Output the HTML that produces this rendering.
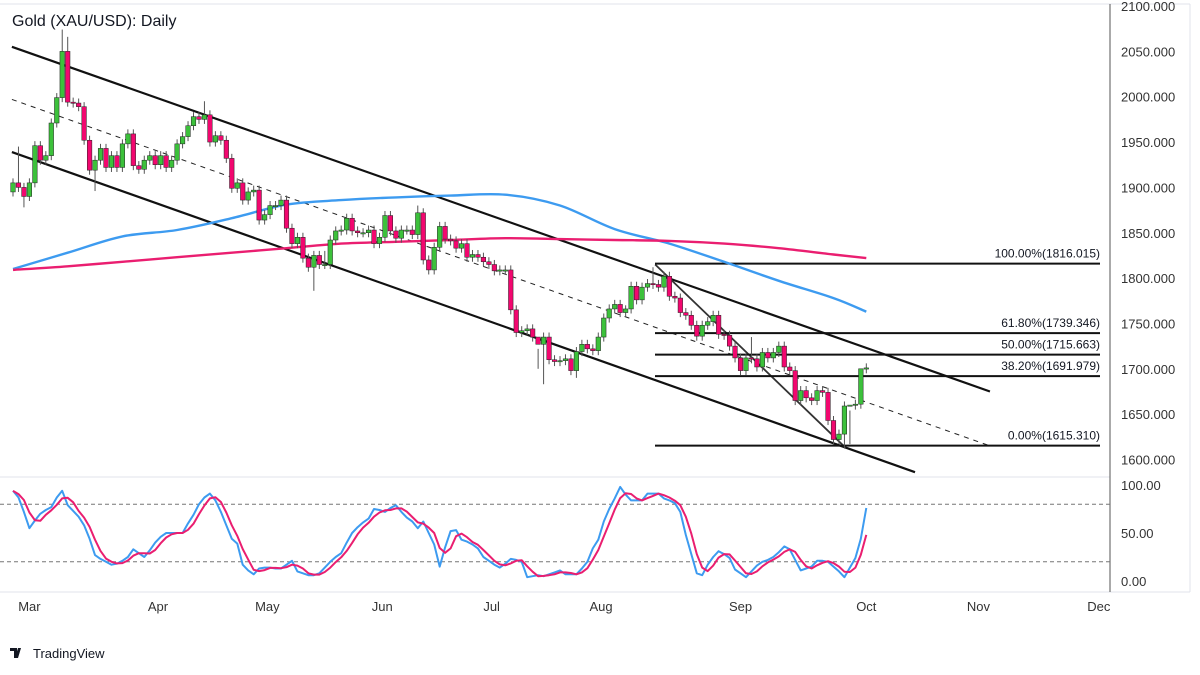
<!DOCTYPE html>
<html><head><meta charset="utf-8"><style>
html,body{margin:0;padding:0;background:#fff;width:1200px;height:675px;overflow:hidden}
svg text{font-family:"Liberation Sans",sans-serif}
</style></head><body>
<svg id="chart" width="1200" height="675" viewBox="0 0 1200 675" xmlns="http://www.w3.org/2000/svg">
<rect x="0" y="0" width="1200" height="675" fill="#fff"/>
<line x1="0" y1="4" x2="1190" y2="4" stroke="#e0e3eb"/>
<line x1="1190" y1="4" x2="1190" y2="592" stroke="#e0e3eb"/>
<line x1="0" y1="477" x2="1110" y2="477" stroke="#e0e3eb"/>
<line x1="0" y1="592" x2="1190" y2="592" stroke="#e0e3eb"/>
<line x1="1110" y1="4" x2="1110" y2="592" stroke="#555"/>
<g id="stochGuides"></g>
<g id="trend"></g>
<g id="ma"></g>
<g id="candles"></g>
<g id="stoch"></g>
<g id="axes"></g>
<text x="12" y="26" font-size="16" fill="#131722">Gold (XAU/USD): Daily</text>
<g>
<path d="M10 648h7v10h-3v-7h-4z M18 648h3l-3 10h-3z" fill="#131722"/>
<text x="33" y="658" font-size="13" fill="#131722">TradingView</text>
</g>
</svg>
<script>
const closes=[1905,1900,1890,1905,1946,1930,1935,1971,1999,2050,1994,1993,1989,1952,1919,1930,1943,1922,1935,1922,1948,1959,1924,1920,1930,1935,1925,1935,1922,1930,1948,1956,1968,1978,1975,1980,1950,1957,1952,1932,1899,1905,1886,1895,1897,1864,1870,1880,1880,1886,1855,
1838,1845,1822,1812,1825,1815,1815,1842,1852,1853,1866,1852,1850,1850,1853,1838,1845,1869,1852,1844,1853,1853,1848,1872,1820,1809,1834,1857,1843,1841,1833,1838,1823,1826,1823,1818,1815,1808,1809,1809,1765,1740,1742,1744,1735,1727,1735,1710,1708,1709,1711,1698,1719,1727,1722,1720,1735,
1756,1766,1771,1762,1766,1791,1776,1790,1794,1793,1790,1802,1780,1778,1762,1759,1748,1736,1748,1752,1759,1738,1737,1725,1712,1698,1712,1711,1702,1718,1712,1718,1725,1702,1698,1665,1676,1668,1665,1676,1674,1643,1622,1628,1659,1660,1661,1700,1701];
const firstOpen=1895;
const bigHighs={1:1945,9:2074,10:2066,35:1995,57:1830,74:1880,96:1700,112:1770,117:1812,135:1735,153:1617,155:1662};
const bigLows={2:1878,15:1896,55:1786,97:1683,103:1690,152:1612};
const stochK=[94,87,72,55,63,70,74,77,87,94,79,73,67,58,44,27,23,20,17,18,21,25,33,29,25,32,40,46,50,50,50,50,60,69,80,87,91,84,72,58,44,39,17,11,7,13,14,14,13,13,17,21,10,8,6,6,8,14,20,25,29,40,50,56,61,65,75,74,72,76,79,72,66,62,55,62,50,38,15,35,52,53,43,41,38,34,25,21,17,14,18,23,22,20,4,5,6,5,7,9,11,7,7,7,13,20,34,43,62,75,86,98,90,84,84,84,91,91,91,86,84,81,72,48,28,8,6,17,25,31,28,24,12,8,4,10,16,20,22,25,30,36,33,22,11,13,15,21,21,20,15,10,4,14,24,44,76];
const ma100=[1810,1828,1846,1853,1866,1881,1886,1889,1891,1892,1880,1854,1838,1818,1797,1778,1763];
const ma200=[1809,1813,1818,1823,1828,1833,1838,1840,1842,1844,1843,1842,1841,1838,1833,1826,1822];
const priceTicks=[2100,2050,2000,1950,1900,1850,1800,1750,1700,1650,1600];
const stochTicks=[100,50,0];
const stochLevels=[80,20];
const fibLevels=[100,61.8,50,38.2,0];
const fibPrices=[1816.015,1739.346,1715.663,1691.979,1615.310];
const months=["Mar","Apr","May","Jun","Jul","Aug","Sep","Oct","Nov","Dec"];
const monthIdx=[3,26.5,46.5,67.5,87.5,107.5,133,156,176.5,198.5];
const upperLine=[[-0.2,2055],[178.6,1675]];
const lowerLine=[[-0.2,1939],[164.9,1586]];
const midLine=[[-0.2,1997],[178.6,1615]];
const wedgeLine=[[117.4,1815],[152.2,1613]];

const NS="http://www.w3.org/2000/svg";
const xOf=i=>13+i*5.47;
const yOf=p=>6+(2100-p)*0.907;
const ySt=v=>581-v*0.96;
function mk(tag,attrs,parent){const e=document.createElementNS(NS,tag);for(const k in attrs)e.setAttribute(k,attrs[k]);parent.appendChild(e);return e;}
const gC=document.getElementById('candles'),gT=document.getElementById('trend'),gM=document.getElementById('ma'),gS=document.getElementById('stoch'),gA=document.getElementById('axes'),gG=document.getElementById('stochGuides');

closes.forEach((c,i)=>{
  const o=i===0?firstOpen:closes[i-1];
  const up=c>=o;
  const hi=bigHighs[i]!==undefined?bigHighs[i]:Math.max(o,c)+5;
  const lo=bigLows[i]!==undefined?bigLows[i]:Math.min(o,c)-5;
  const x=xOf(i);
  const w=mk('line',{x1:x,x2:x,y1:yOf(hi),y2:yOf(lo),stroke:'#555','stroke-width':1},gC);
  
  
  const top=yOf(Math.max(o,c)),bot=yOf(Math.min(o,c));
  const b=mk('rect',{x:x-2.3,y:top,width:4.6,height:Math.max(1.2,bot-top),fill:up?'#3cc13b':'#f2076f',stroke:'#222','stroke-width':0.5},gC);
  
  
});

function line(pts,attrs,name){
  const e=mk('line',Object.assign({x1:xOf(pts[0][0]),y1:yOf(pts[0][1]),x2:xOf(pts[1][0]),y2:yOf(pts[1][1])},attrs),gT);
  
  
}
line(upperLine,{stroke:'#111','stroke-width':2.2},'channel-upper-line');
line(lowerLine,{stroke:'#111','stroke-width':2.2},'channel-lower-line');
line(midLine,{stroke:'#222','stroke-width':1,'stroke-dasharray':'5,5'},'channel-mid-line');
line(wedgeLine,{stroke:'#333','stroke-width':1.8},'wedge-line');

fibLevels.forEach((lv,k)=>{
  const y=yOf(fibPrices[k]);
  const l=mk('line',{x1:655,x2:1100,y1:y,y2:y,stroke:'#111','stroke-width':2},gT);
  
  
  const t=mk('text',{x:1100,y:y-6,'font-size':12,'text-anchor':'end',fill:'#131722'},gT);
  t.textContent=lv.toFixed(2)+'%('+fibPrices[k].toFixed(3)+')';
  
  
});

function smoothPath(pts){
  let d='M'+pts[0][0].toFixed(1)+' '+pts[0][1].toFixed(1);
  for(let i=0;i<pts.length-1;i++){
    const p0=pts[Math.max(0,i-1)],p1=pts[i],p2=pts[i+1],p3=pts[Math.min(pts.length-1,i+2)];
    const c1=[p1[0]+(p2[0]-p0[0])/6,p1[1]+(p2[1]-p0[1])/6];
    const c2=[p2[0]-(p3[0]-p1[0])/6,p2[1]-(p3[1]-p1[1])/6];
    d+=' C'+c1[0].toFixed(1)+' '+c1[1].toFixed(1)+' '+c2[0].toFixed(1)+' '+c2[1].toFixed(1)+' '+p2[0].toFixed(1)+' '+p2[1].toFixed(1);
  }
  return d;
}
function maPath(arr,color,name){
  const pts=arr.map((v,k)=>[xOf(Math.min(k*10,156)),yOf(v)]);
  const p=mk('path',{d:smoothPath(pts),fill:'none',stroke:color,'stroke-width':2.4,'stroke-linejoin':'round'},gM);
  
  
}
maPath(ma100,'#3d9bf0','ma-100-line');
maPath(ma200,'#ea1e70','ma-200-line');

stochLevels.forEach(v=>{
  const l=mk('line',{x1:0,x2:1110,y1:ySt(v),y2:ySt(v),stroke:'#777','stroke-dasharray':'4,3','stroke-width':1},gG);
  
  
});
const stochD=stochK.map((v,i)=>{const a=stochK.slice(Math.max(0,i-2),i+1);return a.reduce((s,x)=>s+x,0)/a.length;});
function stPath(arr,color,name){
  const d=arr.map((v,i)=>(i?'L':'M')+xOf(i).toFixed(1)+' '+ySt(v).toFixed(1)).join(' ');
  const p=mk('path',{d:d,fill:'none',stroke:color,'stroke-width':2,'stroke-linejoin':'round'},gS);
  
  
}
stPath(stochK,'#3d9bf0','stoch-k-line');
stPath(stochD,'#ea1e70','stoch-d-line');

priceTicks.forEach(p=>{
  const t=mk('text',{x:1121,y:yOf(p)+5,'font-size':13,fill:'#333'},gA);
  t.textContent=p.toFixed(3);
  
  
});
stochTicks.forEach(v=>{
  const t=mk('text',{x:1121,y:ySt(v)+5,'font-size':13,fill:'#333'},gA);
  t.textContent=v.toFixed(2);
  
  
});
months.forEach((m,k)=>{
  const t=mk('text',{x:xOf(monthIdx[k]),y:611,'font-size':13,'text-anchor':'middle',fill:'#333'},gA);
  t.textContent=m;
  
  
});
</script>
</body></html>
